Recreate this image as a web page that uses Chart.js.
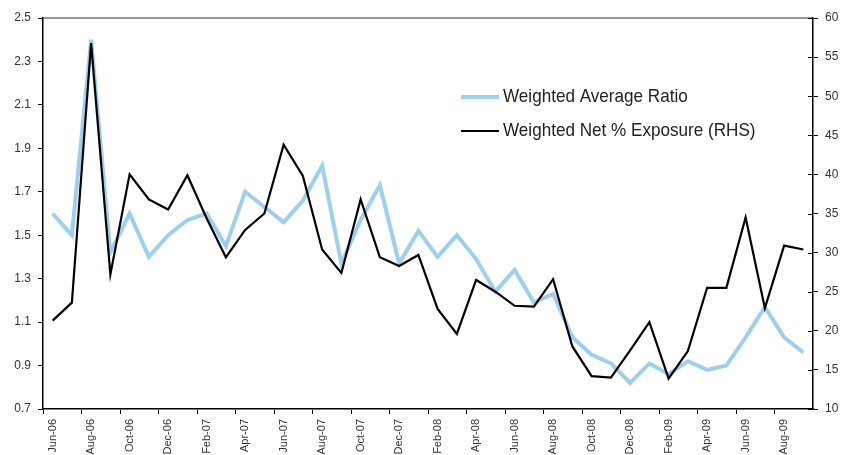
<!DOCTYPE html>
<html>
<head>
<meta charset="utf-8">
<script src="https://cdn.jsdelivr.net/npm/chart.js@4.4.0/dist/chart.umd.min.js"></script>
<style>
  html, body { margin: 0; padding: 0; background: #fff; }
  #wrap { width: 850px; height: 455px; }
</style>
</head>
<body>
<div id="wrap"><canvas id="chart" width="850" height="455"></canvas></div>
<script>
// monthly categories, Jun-06 .. Sep-09
const months = ['Jun-06','Jul-06','Aug-06','Sep-06','Oct-06','Nov-06','Dec-06','Jan-07','Feb-07','Mar-07',
  'Apr-07','May-07','Jun-07','Jul-07','Aug-07','Sep-07','Oct-07','Nov-07','Dec-07','Jan-08',
  'Feb-08','Mar-08','Apr-08','May-08','Jun-08','Jul-08','Aug-08','Sep-08','Oct-08','Nov-08',
  'Dec-08','Jan-09','Feb-09','Mar-09','Apr-09','May-09','Jun-09','Jul-09','Aug-09','Sep-09'];

// left axis
const avgRatio = [1.60,1.50,2.40,1.42,1.60,1.40,1.50,1.57,1.60,1.45,
  1.70,1.63,1.56,1.66,1.82,1.37,1.57,1.73,1.37,1.52,
  1.40,1.50,1.39,1.24,1.34,1.19,1.23,1.03,0.95,0.91,
  0.82,0.91,0.86,0.92,0.88,0.90,1.03,1.17,1.03,0.96];

// right axis (RHS)
const netExposure = [21.3,23.6,56.8,27.2,40.0,36.8,35.5,39.9,34.4,29.4,
  32.9,35.0,43.8,39.8,30.4,27.4,36.8,29.4,28.3,29.7,
  22.8,19.6,26.5,25.0,23.2,23.1,26.6,18.0,14.2,14.0,
  17.5,21.1,13.9,17.4,25.5,25.5,34.5,22.9,30.9,30.4];

const seriesNames = ['Weighted Average Ratio', 'Weighted Net % Exposure (RHS)'];

const FONT = "'Liberation Sans Narrow', 'Arial Narrow', 'Liberation Sans', sans-serif";

// legend inside the plot + top frame line + right axis inner ticks
const extras = {
    id: 'extras',
    afterDraw(chart) {
        const ctx = chart.ctx;
        const area = chart.chartArea;
        ctx.save();

        // top border
        ctx.strokeStyle = '#333';
        ctx.lineWidth = 1.2;
        ctx.beginPath();
        ctx.moveTo(area.left, area.top);
        ctx.lineTo(area.right, area.top);
        ctx.stroke();

        // right axis ticks cross the axis line
        const y1 = chart.scales.y1;
        ctx.strokeStyle = '#000';
        ctx.lineWidth = 1;
        y1.ticks.forEach(t => {
            const yy = Math.round(y1.getPixelForValue(t.value)) + 0.5;
            ctx.beginPath();
            ctx.moveTo(area.right - 5, yy);
            ctx.lineTo(area.right, yy);
            ctx.stroke();
        });

        // legend (text squeezed a bit, the original uses a narrow face)
        const rows = [97, 131];
        chart.data.datasets.forEach((ds, i) => {
            ctx.strokeStyle = ds.borderColor;
            ctx.lineWidth = ds.borderWidth;
            ctx.beginPath();
            ctx.moveTo(461, rows[i]);
            ctx.lineTo(499, rows[i]);
            ctx.stroke();

            ctx.save();
            ctx.translate(503, rows[i]);
            ctx.scale(0.9, 1);
            ctx.font = "19px " + FONT;
            ctx.textBaseline = 'middle';
            ctx.fillStyle = '#222';
            ctx.fillText(ds.label, 0, 0);
            ctx.restore();
        });
        ctx.restore();
    }
};

new Chart(document.getElementById('chart'), {
    type: 'line',
    data: {
        labels: months,
        datasets: [
            {
                label: seriesNames[0],
                data: avgRatio,
                yAxisID: 'y',
                borderColor: '#9dcfef',
                borderWidth: 4,
                order: 1
            },
            {
                label: seriesNames[1],
                data: netExposure,
                yAxisID: 'y1',
                borderColor: '#000000',
                borderWidth: 2.2,
                order: 0
            }
        ]
    },
    options: {
        responsive: false,
        animation: false,
        layout: { padding: { top: 18, left: 0, right: 0, bottom: 0 } },
        elements: {
            point: { radius: 0 },
            line: { tension: 0, borderJoinStyle: 'miter', fill: false }
        },
        plugins: {
            legend: { display: false },
            tooltip: { enabled: false }
        },
        scales: {
            x: {
                offset: true,
                grid: {
                    offset: true,
                    drawOnChartArea: false,
                    tickLength: 5,
                    color: c => (c.index % 2 === 0 ? '#000' : 'rgba(0,0,0,0)')
                },
                border: { color: '#000', width: 1.5 },
                ticks: {
                    autoSkip: false,
                    maxRotation: 90,
                    minRotation: 90,
                    padding: 5,
                    color: '#333',
                    font: { family: FONT, size: 11 },
                    callback: (v, i) => (i % 2 === 0 ? months[i] : '')
                },
                afterFit: s => { s.height = 46; }
            },
            y: {
                position: 'left',
                min: 0.7,
                max: 2.5,
                grid: { drawOnChartArea: false, tickLength: 5, color: '#000' },
                border: { color: '#000', width: 1.5 },
                ticks: {
                    stepSize: 0.2,
                    padding: 7,
                    color: '#333',
                    font: { family: FONT, size: 12 },
                    callback: v => v.toFixed(1)
                },
                afterFit: s => { s.width = 43; }
            },
            y1: {
                position: 'right',
                min: 10,
                max: 60,
                grid: { drawOnChartArea: false, tickLength: 5, color: '#000' },
                border: { color: '#000', width: 1.5 },
                ticks: {
                    stepSize: 5,
                    padding: 7,
                    color: '#333',
                    font: { family: FONT, size: 12 }
                },
                afterFit: s => { s.width = 37; }
            }
        }
    },
    plugins: [extras]
});
</script>
</body>
</html>
